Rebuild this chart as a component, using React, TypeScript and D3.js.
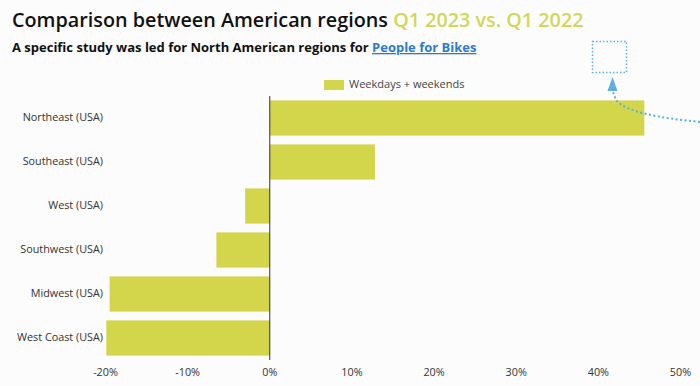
import { useEffect, useRef } from "react";
import * as d3 from "d3";

const regions = [
  "Northeast (USA)",
  "Southeast (USA)",
  "West (USA)",
  "Southwest (USA)",
  "Midwest (USA)",
  "West Coast (USA)",
];
const change = [45.6, 12.8, -3.0, -6.5, -19.5, -19.9];
const xTicks = [-20, -10, 0, 10, 20, 30, 40, 50];
const seriesName = "Weekdays + weekends";

const W = 700;
const H = 386;
const BAR = "#d3d54b";
const ACCENT = "#d2d75a";
const ARROW = "#5eaee2";
const FONT = "'Open Sans', sans-serif";

export default function App() {
  const svgRef = useRef<SVGSVGElement>(null);

  useEffect(() => {
    const svg = d3.select(svgRef.current);
    svg.selectAll("*").remove();

    svg.append("rect").attr("width", W).attr("height", H).attr("fill", "#fcfcfc");

    // title + subtitle
    const title = svg
      .append("text")
      .attr("x", 12)
      .attr("y", 27)
      .attr("font-family", FONT)
      .attr("font-size", 19.8)
      .attr("font-weight", 600)
      .attr("fill", "#111");
    title.append("tspan").text("Comparison between American regions ");
    title.append("tspan").attr("fill", ACCENT).text("Q1 2023 vs. Q1 2022");

    const sub = svg
      .append("text")
      .attr("x", 12)
      .attr("y", 52)
      .attr("font-family", FONT)
      .attr("font-size", 13)
      .attr("font-weight", 700)
      .attr("fill", "#111");
    sub.append("tspan").text("A specific study was led for North American regions for ");
    sub
      .append("tspan")
      .attr("fill", "#2b7bd6")
      .attr("text-decoration", "underline")
      .text("People for Bikes");

    const x = d3.scaleLinear().domain([-20, 50]).range([105.5, 680.5]);
    const y = d3
      .scaleBand<string>()
      .domain(regions)
      .range([96, 360])
      .paddingInner(0.2)
      .paddingOuter(0.1);

    // legend
    svg.append("rect").attr("x", 324).attr("y", 80).attr("width", 20).attr("height", 10).attr("fill", BAR);
    svg
      .append("text")
      .attr("x", 349)
      .attr("y", 85)
      .attr("dominant-baseline", "middle")
      .attr("font-family", FONT)
      .attr("font-size", 11)
      .attr("fill", "#444")
      .text(seriesName);

    // bars
    svg
      .append("g")
      .selectAll("rect")
      .data(change)
      .join("rect")
      .attr("x", (d) => x(Math.min(0, d)))
      .attr("y", (_, i) => y(regions[i]) ?? 0)
      .attr("width", (d) => Math.abs(x(d) - x(0)))
      .attr("height", y.bandwidth())
      .attr("fill", BAR);

    // zero line
    svg
      .append("line")
      .attr("x1", x(0))
      .attr("x2", x(0))
      .attr("y1", 96)
      .attr("y2", 360)
      .attr("stroke", "#333")
      .attr("stroke-width", 1);

    // category labels
    svg
      .append("g")
      .selectAll("text")
      .data(regions)
      .join("text")
      .attr("x", 103)
      .attr("y", (d) => (y(d) ?? 0) + y.bandwidth() / 2)
      .attr("text-anchor", "end")
      .attr("dominant-baseline", "middle")
      .attr("font-family", FONT)
      .attr("font-size", 10.8)
      .attr("fill", "#333")
      .text((d) => d);

    // x tick labels
    svg
      .append("g")
      .selectAll("text")
      .data(xTicks)
      .join("text")
      .attr("x", (d) => x(d))
      .attr("y", 373)
      .attr("text-anchor", "middle")
      .attr("dominant-baseline", "middle")
      .attr("font-family", FONT)
      .attr("font-size", 10.8)
      .attr("fill", "#333")
      .text((d) => `${d}%`);

    // annotation: dotted box + curved arrow
    svg
      .append("rect")
      .attr("x", 592.5)
      .attr("y", 41.5)
      .attr("width", 34)
      .attr("height", 31)
      .attr("fill", "none")
      .attr("stroke", ARROW)
      .attr("stroke-width", 1.5)
      .attr("stroke-dasharray", "1.5 2");

    svg
      .append("path")
      .attr("d", "M700,122 C660,118 625,112 616,100 L613,92")
      .attr("fill", "none")
      .attr("stroke", ARROW)
      .attr("stroke-width", 2)
      .attr("stroke-dasharray", "2 2.5");

    svg
      .append("path")
      .attr("d", "M612.5,77 L607.5,91 L617.5,91 Z")
      .attr("fill", ARROW);
  }, []);

  return (
    <div style={{ position: "fixed", left: 0, top: 0 }}>
      <svg ref={svgRef} width={W} height={H} style={{ display: "block" }} />
    </div>
  );
}
